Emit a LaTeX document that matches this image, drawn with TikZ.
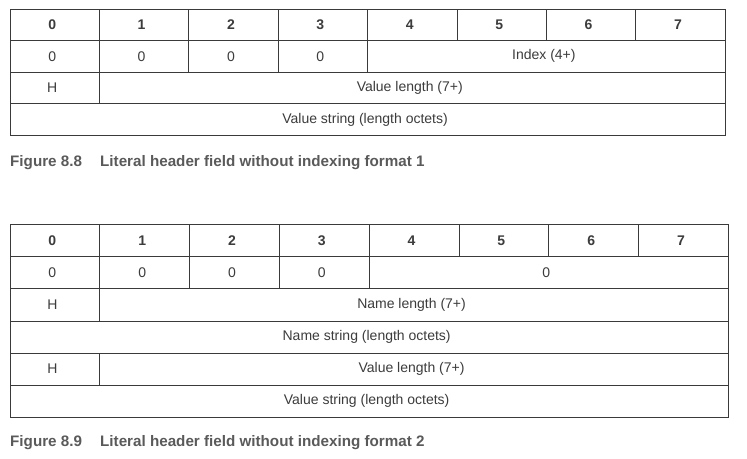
\documentclass[tikz,border=0pt]{standalone}
\usepackage{fontspec}
\setmainfont{Liberation Sans}
\begin{document}
\begin{tikzpicture}[x=1pt,y=-1pt,
  cell/.style={draw=linegray, line width=0.9pt, inner sep=0pt, anchor=north west,
    text=textgray, font=\fontsize{14}{16}\selectfont,
    execute at end node={\kern5pt}},
  headcell/.style={cell, font=\fontsize{14}{16}\selectfont\bfseries},
  caption/.style={anchor=west, inner sep=0pt, text=capgray,
    font=\fontsize{15.2}{18}\selectfont\bfseries}]
\definecolor{linegray}{HTML}{3A3A3A}
\definecolor{textgray}{HTML}{3C3C3C}
\definecolor{capgray}{HTML}{5A5A5A}
\useasboundingbox[fill=white] (0,0) rectangle (747,458);

% ---------- Format 1 ----------
\def\xa{9.5}\def\wa{89.4}\def\ha{31.6}\def\ya{8.5}
\foreach \i in {0,...,7}{
  \node[headcell, minimum width=\wa pt, minimum height=\ha pt] (a-h\i) at ({\xa+\i*\wa},\ya) {\i};
}
\foreach \i in {0,...,3}{
  \node[cell, minimum width=\wa pt, minimum height=\ha pt] (a-z\i) at ({\xa+\i*\wa},{\ya+\ha}) {0};
}
\node[cell, minimum width={4*\wa pt}, minimum height=\ha pt] (a-index) at ({\xa+4*\wa},{\ya+\ha}) {Index (4+)};
\node[cell, minimum width=\wa pt, minimum height=\ha pt] (a-hflag) at (\xa,{\ya+2*\ha}) {H};
\node[cell, minimum width={7*\wa pt}, minimum height=\ha pt] (a-vlen) at ({\xa+\wa},{\ya+2*\ha}) {Value length (7+)};
\node[cell, minimum width={8*\wa pt}, minimum height=\ha pt] (a-vstr) at (\xa,{\ya+3*\ha}) {Value string (length octets)};

\node[caption] (cap1num) at (10,163) {Figure 8.8};
\node[caption] (cap1txt) at (100,163) {Literal header field without indexing format 1};

% ---------- Format 2 ----------
\def\xb{9.5}\def\wb{89.8}\def\hb{32.07}\def\yb{224.3}
\foreach \i in {0,...,7}{
  \node[headcell, minimum width=\wb pt, minimum height=\hb pt] (b-h\i) at ({\xb+\i*\wb},\yb) {\i};
}
\foreach \i in {0,...,3}{
  \node[cell, minimum width=\wb pt, minimum height=\hb pt] (b-z\i) at ({\xb+\i*\wb},{\yb+\hb}) {0};
}
\node[cell, minimum width={4*\wb pt}, minimum height=\hb pt] (b-zero) at ({\xb+4*\wb},{\yb+\hb}) {0};
\node[cell, minimum width=\wb pt, minimum height=\hb pt] (b-hname) at (\xb,{\yb+2*\hb}) {H};
\node[cell, minimum width={7*\wb pt}, minimum height=\hb pt] (b-nlen) at ({\xb+\wb},{\yb+2*\hb}) {Name length (7+)};
\node[cell, minimum width={8*\wb pt}, minimum height=\hb pt] (b-nstr) at (\xb,{\yb+3*\hb}) {Name string (length octets)};
\node[cell, minimum width=\wb pt, minimum height=\hb pt] (b-hval) at (\xb,{\yb+4*\hb}) {H};
\node[cell, minimum width={7*\wb pt}, minimum height=\hb pt] (b-vlen) at ({\xb+\wb},{\yb+4*\hb}) {Value length (7+)};
\node[cell, minimum width={8*\wb pt}, minimum height=\hb pt] (b-vstr) at (\xb,{\yb+5*\hb}) {Value string (length octets)};

\node[caption] (cap2num) at (10,442.7) {Figure 8.9};
\node[caption] (cap2txt) at (100,442.7) {Literal header field without indexing format 2};
\end{tikzpicture}
\end{document}
